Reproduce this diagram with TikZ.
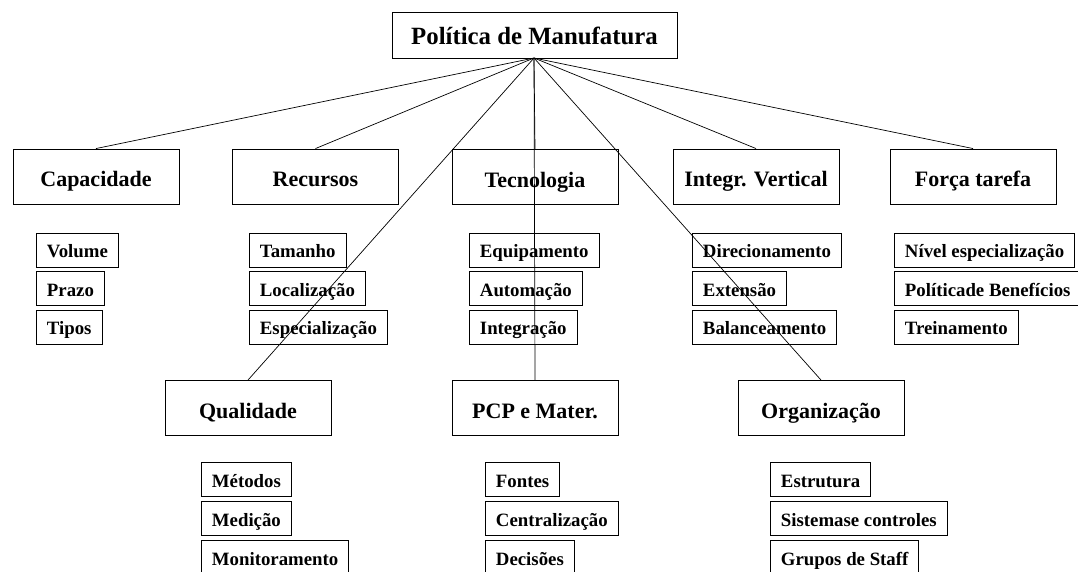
\documentclass[tikz,border=0pt]{standalone}
\usepackage{fontspec}
\setmainfont{Liberation Serif}
\begin{document}
\begin{tikzpicture}[x=1pt,y=-1pt,
  mainbox/.style={draw, line width=0.9pt, minimum width=166pt, minimum height=55pt, inner sep=0pt,
    text height=24pt, text depth=4pt,
    font=\fontsize{22}{24}\selectfont\bfseries},
  topbox/.style={draw, line width=0.9pt, minimum width=285pt, minimum height=46pt, inner sep=0pt,
    text height=23pt, text depth=4.5pt,
    font=\fontsize{24.8}{28}\selectfont\bfseries},
  subbox/.style={draw, line width=0.9pt, anchor=west, minimum height=34pt, inner xsep=10.5pt, inner ysep=0pt,
    text height=18pt, text depth=3pt,
    font=\fontsize{18.8}{21}\selectfont\bfseries},
  link/.style={line width=0.7pt}]
\useasboundingbox (0,0) rectangle (1078,571);
\fill[white] (0,0) rectangle (1078,571);

\node[topbox] (top) at (534.5,35) {Política de Manufatura};
\coordinate (hub) at (534,58);

\node[mainbox] (cap) at (96,176.5) {Capacidade};
\node[mainbox] (rec) at (315.5,176.5) {Recursos};
\node[mainbox] (tec) at (535,177) {Tecnologia};
\node[mainbox] (int) at (756,176.5) {Integr. Vertical};
\node[mainbox] (for) at (973,176.5) {Força tarefa};
\node[mainbox] (qua) at (248,408) {Qualidade};
\node[mainbox] (pcp) at (535,408) {PCP e Mater.};
\node[mainbox] (org) at (821,408) {Organização};

% children row 1
\node[subbox] (c1) at (36,250) {Volume};
\node[subbox] (c2) at (36,288.5) {Prazo};
\node[subbox] (c3) at (36,327) {Tipos};
\node[subbox] (r1) at (249,250) {Tamanho};
\node[subbox] (r2) at (249,288.5) {Localização};
\node[subbox] (r3) at (249,327) {Especialização};
\node[subbox] (t1) at (469,250) {Equipamento};
\node[subbox] (t2) at (469,288.5) {Automação};
\node[subbox] (t3) at (469,327) {Integração};
\node[subbox] (i1) at (692,250) {Direcionamento};
\node[subbox] (i2) at (692,288.5) {Extensão};
\node[subbox] (i3) at (692,327) {Balanceamento};
\node[subbox] (f1) at (894,250) {Nível especialização};
\node[subbox] (f2) at (894,288.5) {Políticade Benefícios};
\node[subbox] (f3) at (894,327) {Treinamento};

% children row 2
\node[subbox] (q1) at (201,479.5) {Métodos};
\node[subbox] (q2) at (201,518.5) {Medição};
\node[subbox] (q3) at (201,557.5) {Monitoramento};
\node[subbox] (p1) at (485,479.5) {Fontes};
\node[subbox] (p2) at (485,518.5) {Centralização};
\node[subbox] (p3) at (485,557.5) {Decisões};
\node[subbox] (o1) at (770,479.5) {Estrutura};
\node[subbox] (o2) at (770,518.5) {Sistemase controles};
\node[subbox] (o3) at (770,557.5) {Grupos de Staff};

% connectors
\draw[link] (hub) -- (cap.north);
\draw[link] (hub) -- (rec.north);
\draw[link] (hub) -- (tec.north);
\draw[link] (hub) -- (int.north);
\draw[link] (hub) -- (for.north);
\draw[link] (hub) -- (qua.north);
\draw[link] (hub) -- (pcp.north);
\draw[link] (hub) -- (org.north);
\end{tikzpicture}
\end{document}
